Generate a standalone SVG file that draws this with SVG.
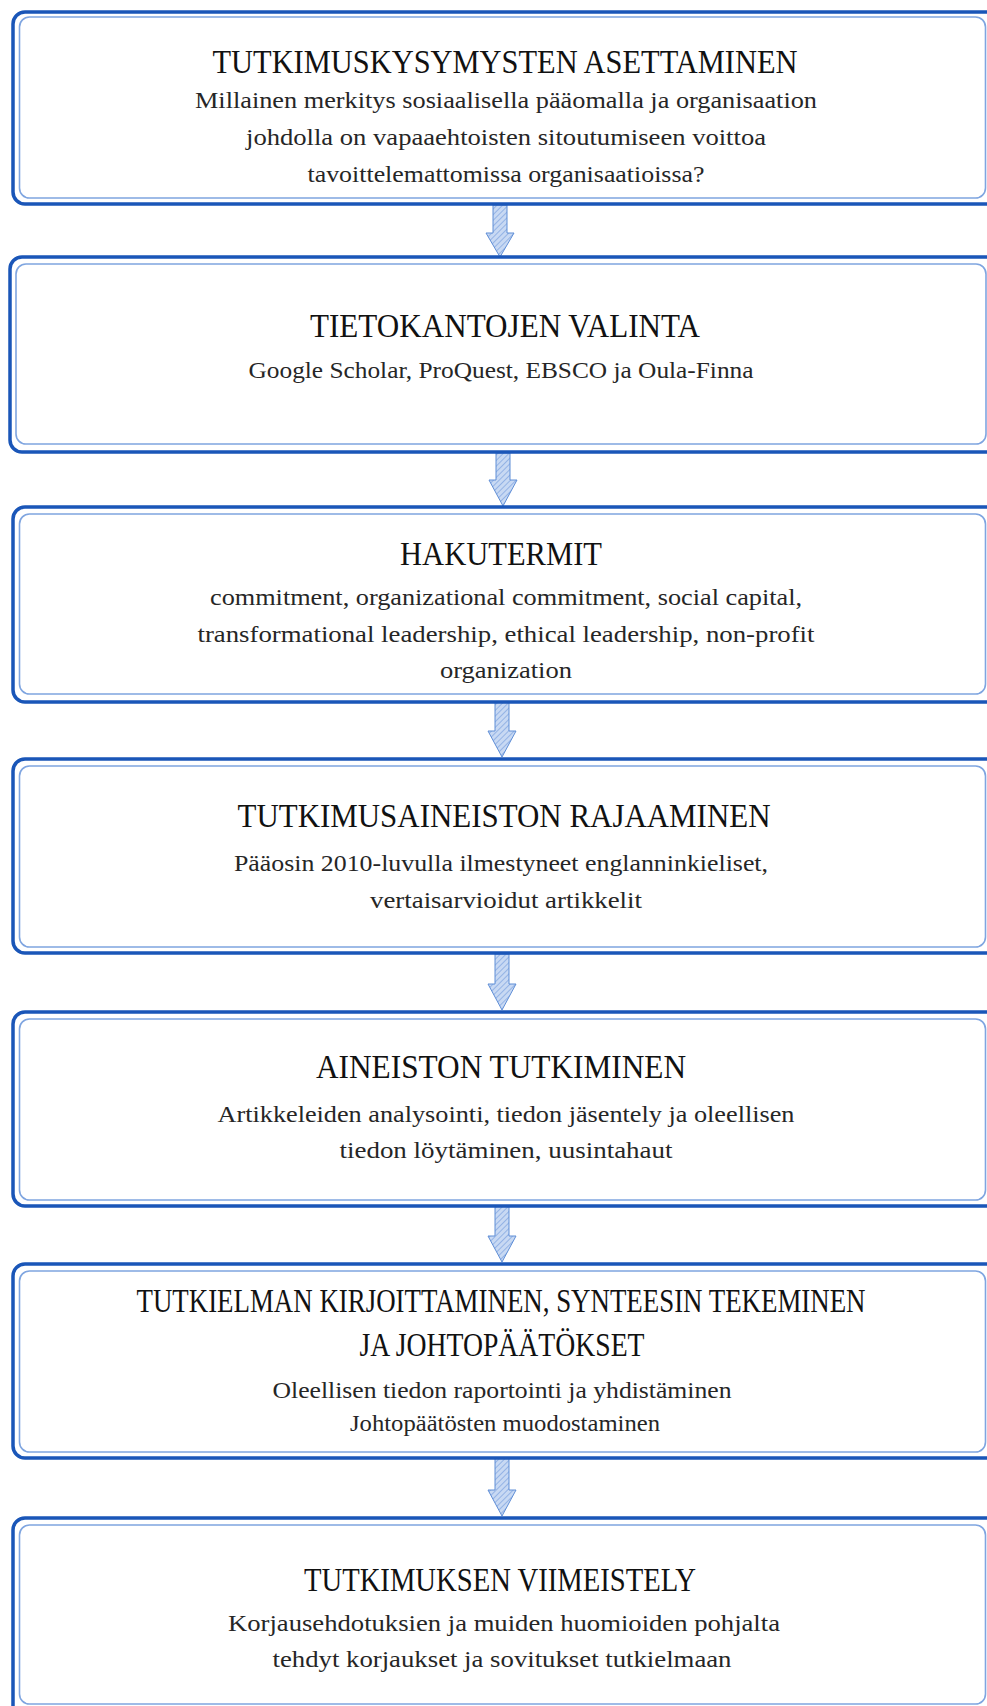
<svg xmlns="http://www.w3.org/2000/svg" width="987" height="1706" viewBox="0 0 987 1706">
<style>
.outer{fill:#ffffff;stroke:#1a56b8;stroke-width:3.5}
.inner{fill:none;stroke:#7fa5e0;stroke-width:1.6}
.t{font-family:"Liberation Serif","Times New Roman",serif;font-size:33px;fill:#111111;text-anchor:middle}
.b{font-family:"Liberation Serif","Times New Roman",serif;font-size:24px;fill:#262626;text-anchor:middle}
.arr{fill:url(#hatch);stroke:#5f8ed6;stroke-width:1}
</style>
<defs>
<pattern id="hatch" patternUnits="userSpaceOnUse" width="4" height="4" patternTransform="rotate(45)">
<rect width="4" height="4" fill="#c8d9f3"/>
<line x1="0" y1="0" x2="0" y2="4" stroke="#7ea3e0" stroke-width="1.4"/>
</pattern>
</defs>
<rect width="987" height="1706" fill="#ffffff"/>
<g id="connectors">
<path class="arr" d="M493,205 H507 V233 H514 L500,257 L486,233 H493 Z"/>
<path class="arr" d="M496,453 H510 V480 H517 L503,506 L489,480 H496 Z"/>
<path class="arr" d="M495,702 H509 V731 H516 L502,757 L488,731 H495 Z"/>
<path class="arr" d="M495,954 H509 V984 H516 L502,1010 L488,984 H495 Z"/>
<path class="arr" d="M495,1206 H509 V1236 H516 L502,1262 L488,1236 H495 Z"/>
<path class="arr" d="M495,1458 H509 V1490 H516 L502,1516 L488,1490 H495 Z"/>
</g>
<g id="node1">
<rect class="outer" x="13" y="12" width="990" height="192" rx="12"/>
<rect class="inner" x="19.5" y="17" width="966" height="181" rx="10"/>
<text class="t" x="505" y="73" textLength="585" lengthAdjust="spacingAndGlyphs">TUTKIMUSKYSYMYSTEN ASETTAMINEN</text>
<text class="b" x="506" y="108" textLength="622" lengthAdjust="spacingAndGlyphs">Millainen merkitys sosiaalisella pääomalla ja organisaation</text>
<text class="b" x="506" y="145" textLength="520" lengthAdjust="spacingAndGlyphs">johdolla on vapaaehtoisten sitoutumiseen voittoa</text>
<text class="b" x="506" y="182" textLength="397" lengthAdjust="spacingAndGlyphs">tavoittelemattomissa organisaatioissa?</text>
</g>
<g id="node2">
<rect class="outer" x="10" y="257" width="990" height="195" rx="12"/>
<rect class="inner" x="16" y="264" width="970" height="180" rx="10"/>
<text class="t" x="505" y="337" textLength="390" lengthAdjust="spacingAndGlyphs">TIETOKANTOJEN VALINTA</text>
<text class="b" x="501" y="378" textLength="505" lengthAdjust="spacingAndGlyphs">Google Scholar, ProQuest, EBSCO ja Oula-Finna</text>
</g>
<g id="node3">
<rect class="outer" x="13" y="507" width="990" height="195" rx="12"/>
<rect class="inner" x="19.5" y="514" width="966" height="180" rx="10"/>
<text class="t" x="501" y="565" textLength="202" lengthAdjust="spacingAndGlyphs">HAKUTERMIT</text>
<text class="b" x="506" y="605" textLength="592" lengthAdjust="spacingAndGlyphs">commitment, organizational commitment, social capital,</text>
<text class="b" x="506" y="642" textLength="617" lengthAdjust="spacingAndGlyphs">transformational leadership, ethical leadership, non-profit</text>
<text class="b" x="506" y="678" textLength="132" lengthAdjust="spacingAndGlyphs">organization</text>
</g>
<g id="node4">
<rect class="outer" x="13" y="759" width="990" height="194" rx="12"/>
<rect class="inner" x="19.5" y="766" width="966" height="181" rx="10"/>
<text class="t" x="504" y="827" textLength="533" lengthAdjust="spacingAndGlyphs">TUTKIMUSAINEISTON RAJAAMINEN</text>
<text class="b" x="501" y="871" textLength="534" lengthAdjust="spacingAndGlyphs">Pääosin 2010-luvulla ilmestyneet englanninkieliset,</text>
<text class="b" x="506" y="908" textLength="272" lengthAdjust="spacingAndGlyphs">vertaisarvioidut artikkelit</text>
</g>
<g id="node5">
<rect class="outer" x="13" y="1012" width="990" height="194" rx="12"/>
<rect class="inner" x="19.5" y="1019" width="966" height="181" rx="10"/>
<text class="t" x="501" y="1078" textLength="370" lengthAdjust="spacingAndGlyphs">AINEISTON TUTKIMINEN</text>
<text class="b" x="506" y="1122" textLength="577" lengthAdjust="spacingAndGlyphs">Artikkeleiden analysointi, tiedon jäsentely ja oleellisen</text>
<text class="b" x="506" y="1158" textLength="333" lengthAdjust="spacingAndGlyphs">tiedon löytäminen, uusintahaut</text>
</g>
<g id="node6">
<rect class="outer" x="13" y="1264" width="990" height="194" rx="12"/>
<rect class="inner" x="19.5" y="1271" width="966" height="181" rx="10"/>
<text class="t" x="501" y="1312" textLength="729" lengthAdjust="spacingAndGlyphs">TUTKIELMAN KIRJOITTAMINEN, SYNTEESIN TEKEMINEN</text>
<text class="t" x="502" y="1356" textLength="285" lengthAdjust="spacingAndGlyphs">JA JOHTOPÄÄTÖKSET</text>
<text class="b" x="502" y="1398" textLength="459" lengthAdjust="spacingAndGlyphs">Oleellisen tiedon raportointi ja yhdistäminen</text>
<text class="b" x="505" y="1431" textLength="310" lengthAdjust="spacingAndGlyphs">Johtopäätösten muodostaminen</text>
</g>
<g id="node7">
<rect class="outer" x="13" y="1518" width="990" height="200" rx="12"/>
<rect class="inner" x="19.5" y="1525" width="966" height="179" rx="10"/>
<text class="t" x="500" y="1591" textLength="392" lengthAdjust="spacingAndGlyphs">TUTKIMUKSEN VIIMEISTELY</text>
<text class="b" x="504" y="1631" textLength="552" lengthAdjust="spacingAndGlyphs">Korjausehdotuksien ja muiden huomioiden pohjalta</text>
<text class="b" x="502" y="1667" textLength="459" lengthAdjust="spacingAndGlyphs">tehdyt korjaukset ja  sovitukset tutkielmaan</text>
</g>
</svg>
